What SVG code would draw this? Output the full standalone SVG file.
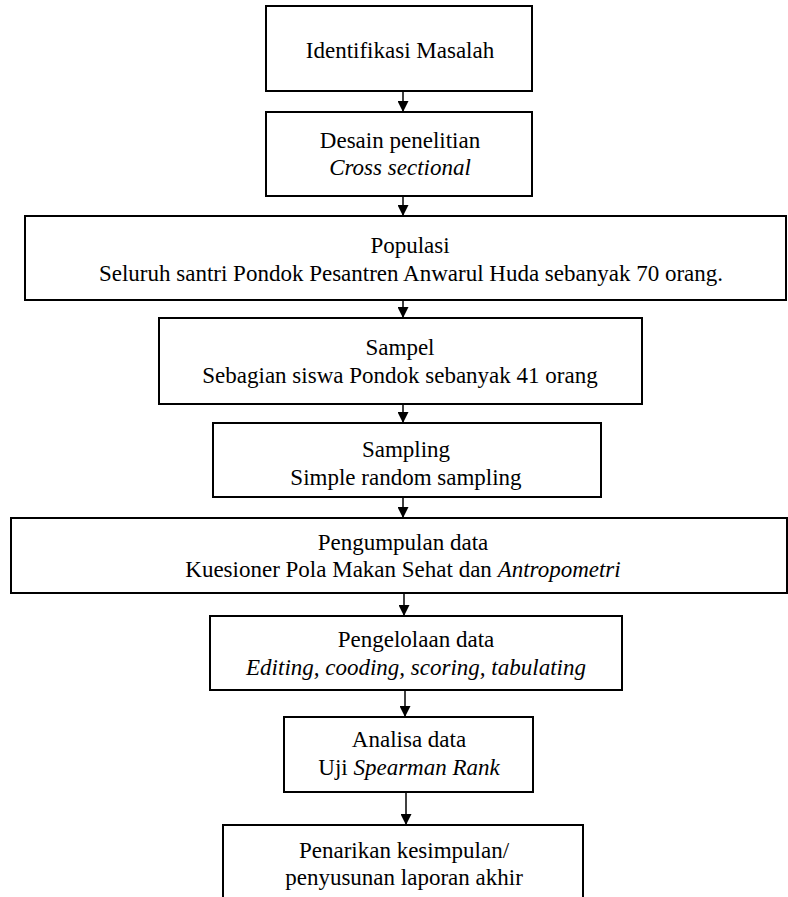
<svg xmlns="http://www.w3.org/2000/svg" width="788" height="897" viewBox="0 0 788 897">
<style>
.box{fill:#fff;stroke:#000;stroke-width:2}
.t{font-size:23px;fill:#000;text-anchor:middle}
.i{font-style:italic}
.c{stroke:#000;stroke-width:1.5;fill:none}
</style>
<defs>
<marker id="ah" viewBox="0 0 10 10" refX="10" refY="5" markerWidth="11" markerHeight="11" markerUnits="userSpaceOnUse" orient="auto">
<path d="M0,0 L10,5 L0,10 Z" fill="#000"/>
</marker>
</defs>
<rect width="788" height="897" fill="#fff"/>
<g id="connectors">
<line class="c" x1="403" y1="91" x2="403" y2="112" marker-end="url(#ah)"/>
<line class="c" x1="403" y1="196" x2="403" y2="216" marker-end="url(#ah)"/>
<line class="c" x1="403" y1="300" x2="403" y2="318" marker-end="url(#ah)"/>
<line class="c" x1="403" y1="404" x2="403" y2="423" marker-end="url(#ah)"/>
<line class="c" x1="403" y1="497" x2="403" y2="518" marker-end="url(#ah)"/>
<line class="c" x1="404" y1="593" x2="404" y2="616" marker-end="url(#ah)"/>
<line class="c" x1="405" y1="690" x2="405" y2="717" marker-end="url(#ah)"/>
<line class="c" x1="406" y1="792" x2="406" y2="825" marker-end="url(#ah)"/>
</g>
<g font-family="Liberation Serif, DejaVu Serif, serif">
<g id="n1">
<rect class="box" x="266" y="6" width="266" height="85"/>
<text class="t" x="400" y="58">Identifikasi Masalah</text>
</g>
<g id="n2">
<rect class="box" x="266" y="112" width="266" height="84"/>
<text class="t" x="400" y="148">Desain penelitian</text>
<text class="t i" x="400" y="175">Cross sectional</text>
</g>
<g id="n3">
<rect class="box" x="25" y="216" width="761" height="84"/>
<text class="t" x="410" y="253">Populasi</text>
<text class="t" x="411" y="281">Seluruh santri Pondok Pesantren Anwarul Huda sebanyak 70 orang.</text>
</g>
<g id="n4">
<rect class="box" x="159" y="318" width="483" height="86"/>
<text class="t" x="400" y="355">Sampel</text>
<text class="t" x="400" y="383">Sebagian siswa Pondok sebanyak 41 orang</text>
</g>
<g id="n5">
<rect class="box" x="213" y="423" width="388" height="74"/>
<text class="t" x="406" y="457">Sampling</text>
<text class="t" x="406" y="485">Simple random sampling</text>
</g>
<g id="n6">
<rect class="box" x="11" y="518" width="776" height="75"/>
<text class="t" x="403" y="550">Pengumpulan data</text>
<text class="t" x="403" y="577">Kuesioner Pola Makan Sehat dan <tspan class="i">Antropometri</tspan></text>
</g>
<g id="n7">
<rect class="box" x="210" y="616" width="412" height="74"/>
<text class="t" x="416" y="647">Pengelolaan data</text>
<text class="t i" x="416" y="675">Editing, cooding, scoring, tabulating</text>
</g>
<g id="n8">
<rect class="box" x="284" y="717" width="249" height="75"/>
<text class="t" x="409" y="747">Analisa data</text>
<text class="t" x="409" y="775">Uji <tspan class="i">Spearman Rank</tspan></text>
</g>
<g id="n9">
<rect class="box" x="223" y="825" width="360" height="90"/>
<text class="t" x="404" y="858">Penarikan kesimpulan/</text>
<text class="t" x="404" y="885">penyusunan laporan akhir</text>
</g>
</g>
</svg>
